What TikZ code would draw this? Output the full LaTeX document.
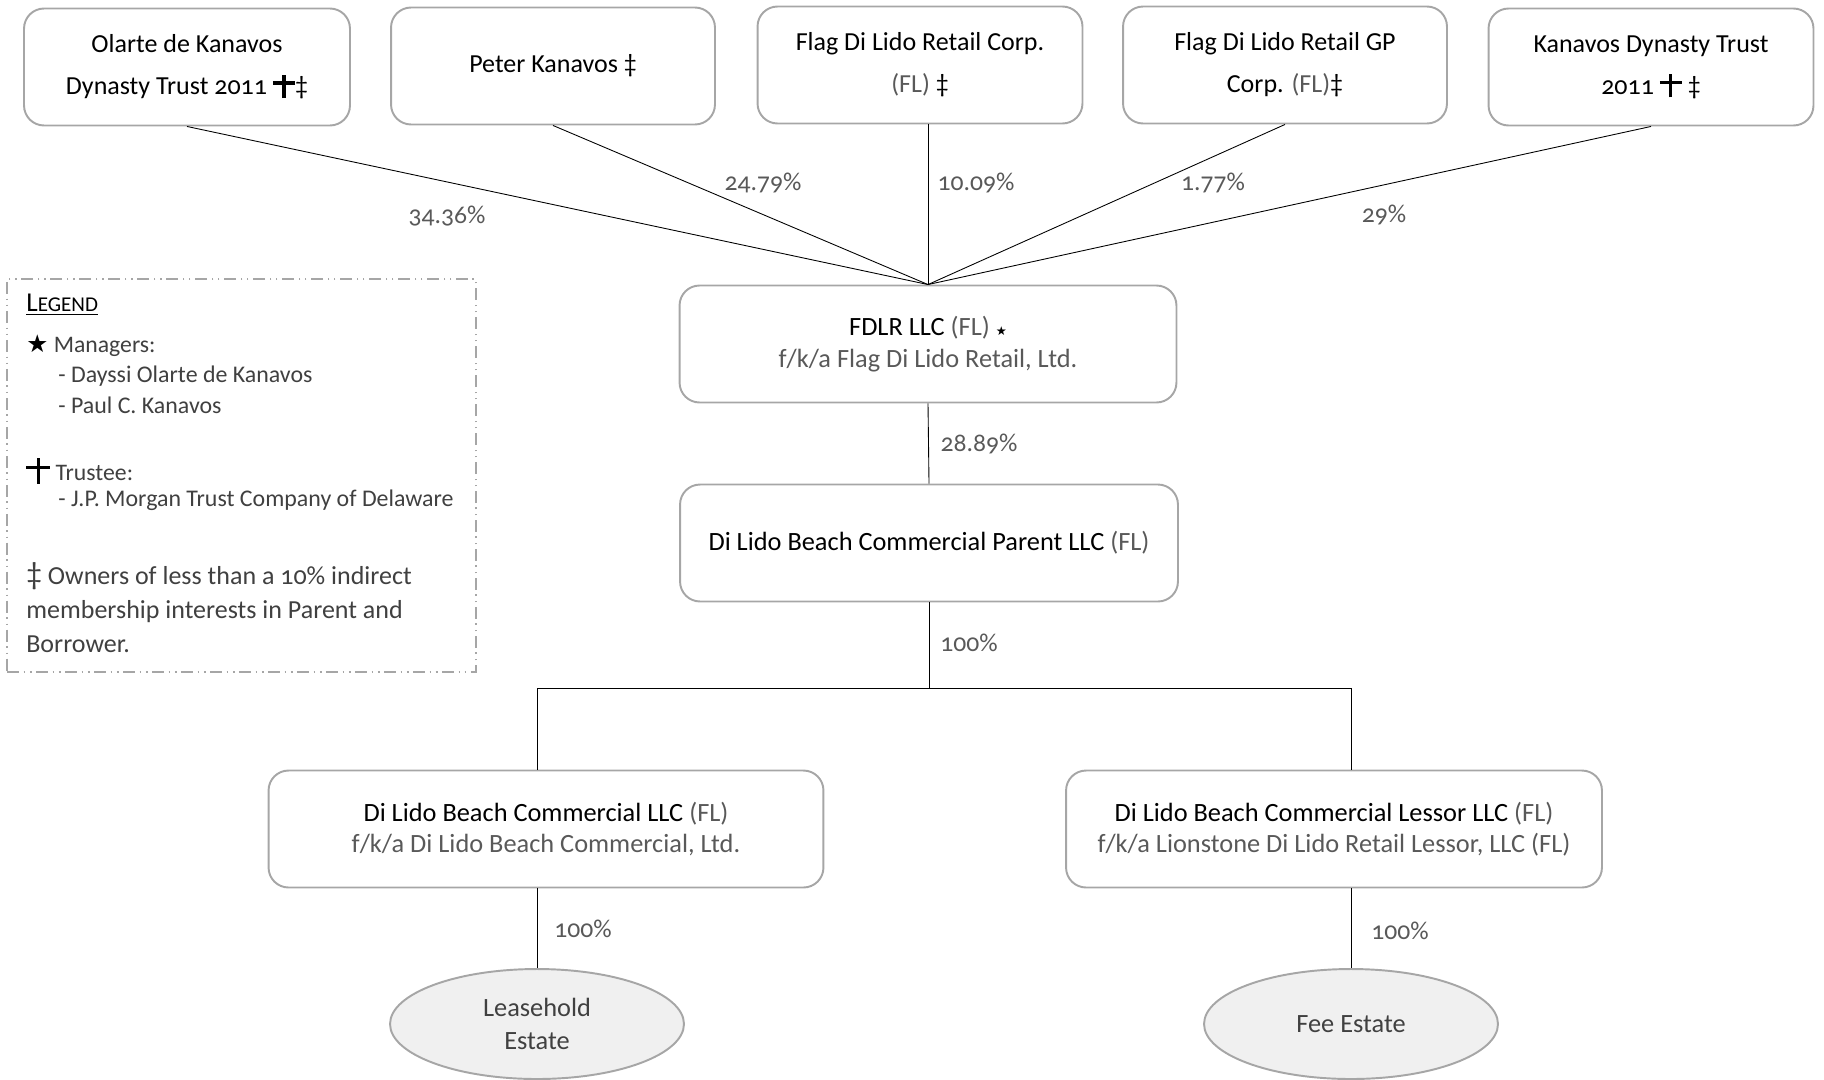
\documentclass[tikz,border=0pt]{standalone}
\usepackage{fontspec}
\setmainfont{Carlito}[Numbers=OldStyle]
\newfontfamily\symfont{DejaVu Sans}
\usetikzlibrary{shapes.geometric,positioning}

\definecolor{boxgray}{HTML}{A6A6A6}
\definecolor{txtgray}{HTML}{595959}
\definecolor{leggray}{HTML}{404040}
\definecolor{estfill}{HTML}{F0F0F0}

% latin cross built from two rules
\newcommand{\trusteemark}{\mbox{\rlap{\rule[0.4em]{0.85em}{0.12em}}\hspace{0.365em}\rule[-0.12em]{0.12em}{0.9em}\hspace{0.365em}}}
\newcommand{\lessmark}{‡}
\newcommand{\fl}{{\color{txtgray}(FL)}}

\begin{document}
\begin{tikzpicture}[
  x=0.02cm, y=-0.02cm,
  ownbox/.style={
    draw=boxgray,
    line width=1.1pt,
    rounded corners=0.4cm,
    align=center,
    minimum width=#1,
    minimum height=2.34cm,
    font=\fontsize{14.8}{24}\selectfont
    },
  entbox/.style={
    ownbox=#1,
    font=\fontsize{15}{17.8}\selectfont
    },
  estate/.style={
    ellipse,
    draw=boxgray,
    line width=1.1pt,
    fill=estfill,
    minimum width=5.88cm,
    minimum height=2.2cm,
    align=center,
    text=leggray,
    font=\fontsize{15}{18.5}\selectfont
    },
  pct/.style={text=txtgray, font=\fontsize{14.6}{16}\selectfont},
  link/.style={draw, line width=0.5pt},
  legbox/.style={
    draw=boxgray,
    line width=1pt,
    dash pattern=on 7pt off 2.5pt on 1pt off 2.5pt on 1pt off 2.5pt
    },
  legline/.style={anchor=west, text=leggray, inner sep=0pt, font=\fontsize{13.5}{19}\selectfont},
  legsub/.style={legline, font=\fontsize{13.6}{19}\selectfont}
]

\useasboundingbox (0,0) rectangle (1824,1079);

% owners
\node [ownbox=6.52cm] (olarte) at (187,67) {Olarte de Kanavos\\Dynasty Trust 2011 \trusteemark\lessmark};
\node [ownbox=6.48cm] (peter) at (553,66) {Peter Kanavos \lessmark};
\node [ownbox=6.5cm] (corp) at (920,65) {Flag Di Lido Retail Corp.\\\fl{} \lessmark};
\node [ownbox=6.48cm] (gpcorp) at (1285,65) {Flag Di Lido Retail GP\\Corp. \fl\lessmark};
\node [ownbox=6.5cm] (kdt) at (1651,67) {Kanavos Dynasty Trust\\2011 \trusteemark{} \lessmark};

% entities
\node [entbox=9.94cm] (fdlr) at (928,344) {FDLR LLC \fl{} {\symfont\scriptsize ★}\\{\color{txtgray}f/k/a Flag Di Lido Retail, Ltd.}};
\node [entbox=9.96cm] (parent) at (929,543) {Di Lido Beach Commercial Parent LLC \fl};
\node [entbox=11.1cm] (dlbc) at (546,829) {Di Lido Beach Commercial LLC \fl\\{\color{txtgray}f/k/a Di Lido Beach Commercial, Ltd.}};
\node [entbox=10.72cm] (lessor) at (1334,829) {Di Lido Beach Commercial Lessor LLC \fl\\{\color{txtgray}f/k/a Lionstone Di Lido Retail Lessor, LLC (FL)}};

\node [estate] (lease) at (537,1024) {Leasehold\\Estate};
\node [estate] (fee) at (1351,1024) {Fee Estate};

% ownership lines
\draw [link] (olarte.south) -- (fdlr.north);
\draw [link] (peter.south) -- (fdlr.north);
\draw [link] (fdlr.north |- corp.south) -- (fdlr.north);
\draw [link] (gpcorp.south) -- (fdlr.north);
\draw [link] (kdt.south) -- (fdlr.north);
\draw [link] (fdlr.south) -- (parent.north);

\coordinate (split) at (929,688);
\draw [link] (parent.south) -- (split);
\draw [link] (lease |- dlbc.north) -- (lease |- split) -- (fee |- split) -- (fee |- lessor.north);
\draw [link] (lease |- dlbc.south) -- (lease.north);
\draw [link] (fee |- lessor.south) -- (fee.north);

\node [pct] (p1) at (447,216) {34.36\%};
\node [pct] (p2) at (763,183) {24.79\%};
\node [pct] (p3) at (976,183) {10.09\%};
\node [pct] (p4) at (1213,183) {1.77\%};
\node [pct] (p5) at (1384,215) {29\%};
\node [pct] (p6) at (979,444) {28.89\%};
\node [pct] (p7) at (969,643) {100\%};
\node [pct] (p8) at (583,929) {100\%};
\node [pct] (p9) at (1400,931) {100\%};

% legend
\node [legbox, minimum width=9.38cm, minimum height=7.86cm] (legend) at (241.5,475.5) {};
\node [legline, text=black] (legtitle) at (26,305) {\underline{{\fontsize{15.5}{15}\selectfont L}{\fontsize{12}{15}\selectfont EGEND}}};
\node [legline] (mgr) at (26,346) {{\symfont\color{black}\fontsize{14}{19}\selectfont ★} Managers:};
\node [legsub] (mgr1) at (58,376) {- Dayssi Olarte de Kanavos};
\node [legsub] (mgr2) at (58,405) {- Paul C. Kanavos};
\node [legline] (trs) at (26,471) {{\color{black}\fontsize{16}{19}\selectfont\trusteemark} Trustee:};
\node [legsub] (trs1) at (58,500) {- J.P. Morgan Trust Company of Delaware};
\node [legline, anchor=north west, align=left, font=\fontsize{14.8}{19.5}\selectfont] (less) at (26,562) {{\fontsize{18}{19.5}\selectfont\lessmark}{} Owners of less than a 10\% indirect\\membership interests in Parent and\\Borrower.};
\end{tikzpicture}
\end{document}
